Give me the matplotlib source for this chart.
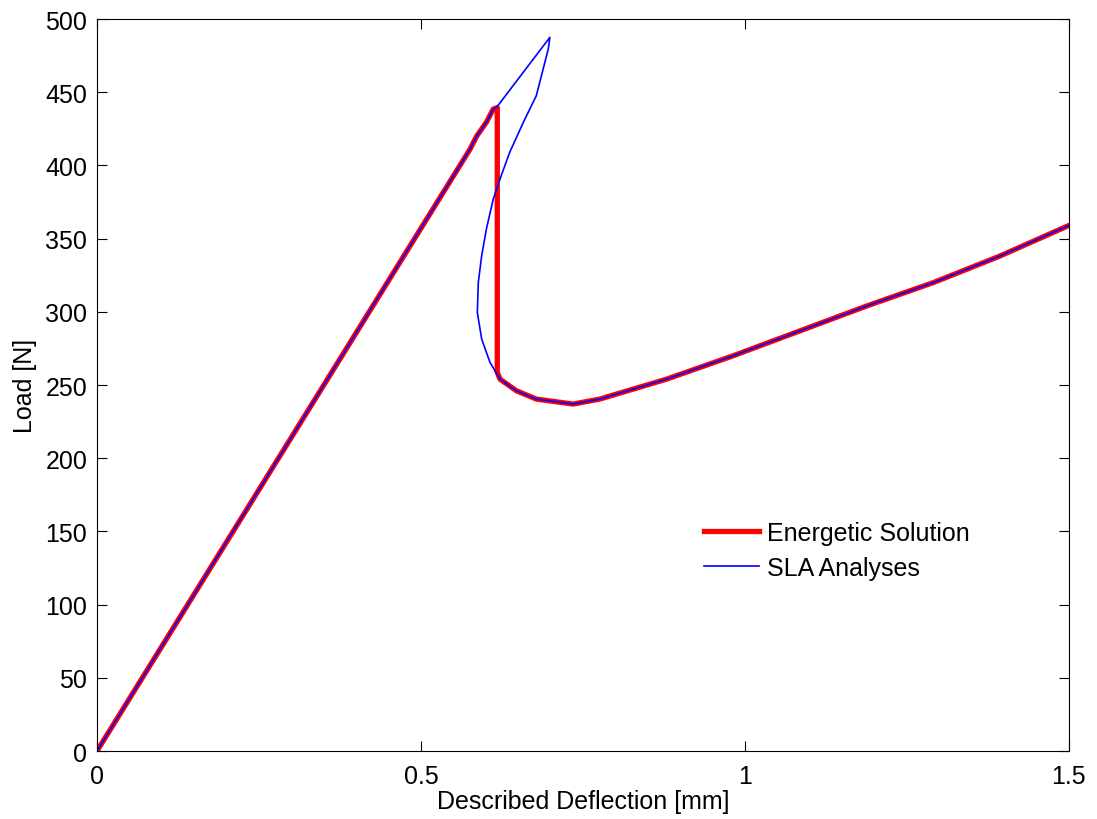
import numpy as np
import matplotlib.pyplot as plt

params = {
    'font.family': ['Liberation Sans', 'DejaVu Sans'],
    'font.size': 18,
    'xtick.direction': 'in',
    'ytick.direction': 'in',
    'xtick.top': True,
    'ytick.right': True,
}
plt.rcParams.update(params)

# post-peak branch shared by both curves (mm, N)
post_x = [0.622, 0.6476, 0.678, 0.7145, 0.735, 0.776, 0.879, 0.982, 1.085,
          1.188, 1.291, 1.393, 1.5]
post_y = [254.0, 246.0, 240.4, 238.2, 237.0, 240.4, 254.0, 270.0, 287.0,
          304.0, 320.0, 338.0, 359.0]

# energetic solution: linear loading, vertical drop at peak
energetic_x = [0.0, 0.5756, 0.586, 0.601, 0.6116, 0.6178, 0.6178] + post_x
energetic_y = [0.0, 411.0, 420.0, 429.5, 438.5, 439.5, 258.7] + post_y

# SLA analyses: loading, overshoot to 0.70 mm, snap-back loop
sla_x = [0.0, 0.5756, 0.586, 0.601, 0.6116, 0.6168, 0.699, 0.6965, 0.678,
         0.658, 0.637, 0.622, 0.6116, 0.601, 0.5937, 0.5885, 0.587, 0.5937,
         0.6065] + post_x
sla_y = [0.0, 411.0, 420.0, 429.5, 438.5, 439.7, 487.5, 479.5, 447.6,
         429.4, 409.0, 390.7, 377.0, 356.6, 338.3, 320.0, 299.6, 281.4,
         265.5] + post_y

fig = plt.figure(figsize=(10.97, 8.2), dpi=100)
ax = fig.add_axes([0.0884, 0.0829, 0.886, 0.8927])

ax.plot(energetic_x, energetic_y, color='red', linewidth=3.8, label='Energetic Solution')
ax.plot(sla_x, sla_y, color='blue', linewidth=1.2, label='SLA Analyses')

ax.set_xlim(0, 1.5)
ax.set_ylim(0, 500)
ax.set_xticks([0, 0.5, 1, 1.5], ['0', '0.5', '1', '1.5'])
ax.set_yticks(np.arange(0, 501, 50))
ax.tick_params(axis='x', length=7, width=0.8, labelsize=18, pad=9)
ax.tick_params(axis='y', length=7, width=0.8, labelsize=18, pad=7)
for s in ax.spines.values():
    s.set_linewidth(0.8)

ax.set_xlabel('Described Deflection [mm]', fontsize=18, labelpad=1)
ax.set_ylabel('Load [N]', fontsize=18, labelpad=6)

ax.legend(loc='center left', bbox_to_anchor=(0.612, 0.274), frameon=False,
          fontsize=18, borderpad=0, handlelength=2.2, handletextpad=0.3,
          labelspacing=0.45)

fig.savefig('out.png', dpi=100)
